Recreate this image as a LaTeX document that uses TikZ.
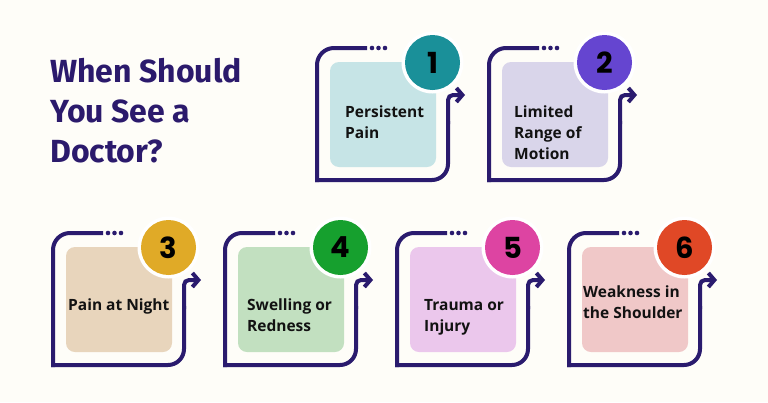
\documentclass[tikz,border=0pt]{standalone}
\usepackage{fontspec}
\setmainfont{PT Sans}
\newfontfamily\numfont{Poppins}
\newfontfamily\cardfont{Open Sans}
\newfontfamily\titlefont{Fira Sans}
\usetikzlibrary{arrows.meta}
\definecolor{bgc}{HTML}{FEFDF8}
\definecolor{ink}{HTML}{2A1B6E}
\definecolor{titlec}{HTML}{2B1A6C}
\definecolor{fa}{HTML}{C6E4E6}\definecolor{ca}{HTML}{1A9099}
\definecolor{fb}{HTML}{D9D5EA}\definecolor{cb}{HTML}{6545D0}
\definecolor{fc}{HTML}{E8D5BC}\definecolor{cc}{HTML}{E0AA27}
\definecolor{fd}{HTML}{C2E0C0}\definecolor{cd}{HTML}{16A02E}
\definecolor{fe}{HTML}{EBC7EC}\definecolor{ce}{HTML}{DD44A2}
\definecolor{ff}{HTML}{F0C8C8}\definecolor{cf}{HTML}{E04826}
\tikzset{
  outl/.style={draw=ink, line width=4pt},
  dotc/.style={circle, fill=ink, inner sep=0pt, minimum size=4.6pt},
  ring/.style={circle, fill=white, inner sep=0pt, minimum size=62pt},
  badge/.style={circle, inner sep=0pt, minimum size=55pt, font={\numfont\bfseries\fontsize{29}{29}\selectfont}, text=black},
  cardtext/.style={anchor=base west, align=left, inner sep=0pt, text=black!93, font={\cardfont\bfseries\fontsize{15.5}{21}\selectfont}},
  titletext/.style={anchor=base west, align=left, inner sep=0pt, text=titlec, font={\titlefont\bfseries\fontsize{32}{40}\selectfont}}
}
\newcommand{\mycard}[6]{%
  \draw[outl, line cap=rect, rounded corners=17pt] (#2+48,#3) -- (#2,#3) -- (#2,#3+132);
  \draw[outl, line cap=rect, rounded corners=16pt] (#2,#3+132) -- (#2+131,#3+132) -- (#2+131,#3+75);
  \draw[outl, rounded corners=5pt, -{Straight Barb[length=6pt,width=14pt]}] (#2+131,#3+76) -- (#2+131,#3+47) -- (#2+148,#3+47);
  \node[dotc] (#1d1) at (#2+55,#3) {};
  \node[dotc] (#1d2) at (#2+61.5,#3) {};
  \node[dotc] (#1d3) at (#2+68,#3) {};
  \fill[#4, rounded corners=9pt] (#2+13,#3+14) rectangle (#2+119,#3+119);
  \node[ring] (#1r) at (#2+115.5,#3+14.5) {};
  \node[badge, fill=#5] (#1n) at (#1r) {#6};
}
\begin{document}
\begin{tikzpicture}[x=1pt,y=-1pt]
\fill[bgc] (0,0) rectangle (768,402);
\useasboundingbox (0,0) rectangle (768,402);
\node[titletext] (title) at (50,162) {When Should\\You See a\\Doctor?};
\mycard{a}{317}{48}{fa}{ca}{1}
\mycard{b}{489}{48}{fb}{cb}{2}
\mycard{c}{53}{233}{fc}{cc}{3}
\mycard{d}{225}{233}{fd}{cd}{4}
\mycard{e}{397}{233}{fe}{ce}{5}
\mycard{f}{569}{233}{ff}{cf}{6}
\node[cardtext] (ta) at (345,138) {Persistent\\Pain};
\node[cardtext] (tb) at (514,159) {Limited\\Range of\\Motion};
\node[cardtext] (tc) at (68,310) {Pain at Night};
\node[cardtext] (td) at (247,331) {Swelling or\\Redness};
\node[cardtext] (te) at (424,331) {Trauma or\\Injury};
\node[cardtext] (tf) at (583,318) {Weakness in\\the Shoulder};
\end{tikzpicture}
\end{document}
